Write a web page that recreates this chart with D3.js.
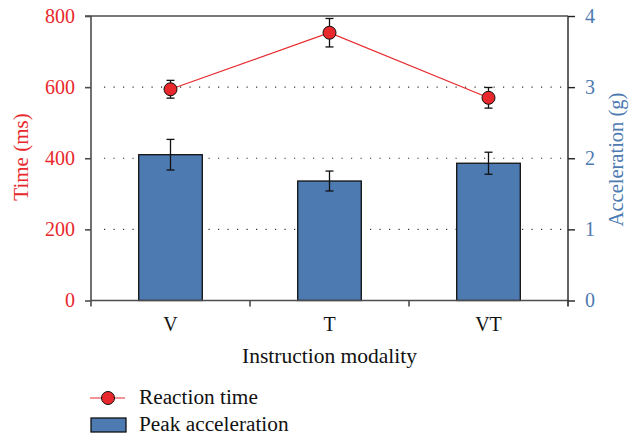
<!DOCTYPE html>
<html>
<head>
<meta charset="utf-8">
<script src="https://cdn.jsdelivr.net/npm/d3@7"></script>
<style>
  body { margin: 0; background: #fff; }
  svg text { font-family: "Liberation Serif", "Times New Roman", Tinos, "DejaVu Serif", serif !important; }
</style>
</head>
<body>
<svg></svg>
<script>
// Data
let categories = ["V", "T", "VT"];
let reactionTime = [594, 753, 570];
let reactionErr = [25, 40, 29];
let peakAcc = [2.05, 1.68, 1.93];
let peakAccErr = [0.215, 0.14, 0.155];
let timeTicks = [0, 200, 400, 600, 800];
let accTicks = [0, 1, 2, 3, 4];

const width = 634;
const height = 436;
const plotLeft = 91;
const plotRight = 568;
const plotTop = 16;
const plotBottom = 300.5;

const red = "#e8282c";
const blue = "#4c7ab1";
const axisGray = "#4d4d4d";

let svg = d3.select("svg").attr("width", width).attr("height", height);

let xScale = d3.scaleBand().domain(categories).range([plotLeft, plotRight]).paddingInner(0.6).paddingOuter(0.3);
let xAxisScale = d3.scaleBand().domain(categories).range([plotLeft, plotRight]);
let yTime = d3.scaleLinear().domain([0, 800]).range([plotBottom, plotTop]);
let yAcc = d3.scaleLinear().domain([0, 4]).range([plotBottom, plotTop]);

// grid lines
svg.append("g")
  .selectAll("line")
  .data([200, 400, 600])
  .enter()
  .append("line")
  .attr("x1", plotLeft + 13)
  .attr("x2", plotRight - 6)
  .attr("y1", (d) => yTime(d))
  .attr("y2", (d) => yTime(d))
  .attr("stroke", "#333")
  .attr("stroke-width", 1.2)
  .attr("stroke-dasharray", "1.2 8.3");

// bars
svg.append("g")
  .selectAll("rect")
  .data(categories)
  .enter()
  .append("rect")
  .attr("x", (d) => xScale(d))
  .attr("width", xScale.bandwidth())
  .attr("y", (d, i) => yAcc(peakAcc[i]))
  .attr("height", (d, i) => plotBottom - yAcc(peakAcc[i]))
  .attr("fill", blue)
  .attr("stroke", "#111")
  .attr("stroke-width", 1.3);

// error bars
function errorBars(vals, errs, scale) {
  let g = svg.append("g").attr("stroke", "#111").attr("stroke-width", 1.3);
  categories.forEach((c, i) => {
    let cx = xScale(c) + xScale.bandwidth() / 2;
    let y1 = scale(vals[i] + errs[i]);
    let y2 = scale(vals[i] - errs[i]);
    g.append("line").attr("x1", cx).attr("x2", cx).attr("y1", y1).attr("y2", y2);
    g.append("line").attr("x1", cx - 4).attr("x2", cx + 4).attr("y1", y1).attr("y2", y1);
    g.append("line").attr("x1", cx - 4).attr("x2", cx + 4).attr("y1", y2).attr("y2", y2);
  });
}
errorBars(peakAcc, peakAccErr, yAcc);

// reaction time line
let line = d3.line()
  .x((d, i) => xScale(categories[i]) + xScale.bandwidth() / 2)
  .y((d) => yTime(d));

svg.append("path")
  .datum(reactionTime)
  .attr("d", line)
  .attr("fill", "none")
  .attr("stroke", red)
  .attr("stroke-width", 1.2);

errorBars(reactionTime, reactionErr, yTime);

svg.append("g")
  .selectAll("circle")
  .data(reactionTime)
  .enter()
  .append("circle")
  .attr("cx", (d, i) => xScale(categories[i]) + xScale.bandwidth() / 2)
  .attr("cy", (d) => yTime(d))
  .attr("r", 6.5)
  .attr("fill", red)
  .attr("stroke", "#111")
  .attr("stroke-width", 1);

// axes
let leftAxis = svg.append("g")
  .attr("transform", "translate(" + plotLeft + ",0)")
  .call(d3.axisLeft(yTime).tickValues(timeTicks).tickSize(6).tickPadding(10));
leftAxis.select(".domain").attr("stroke", axisGray).attr("stroke-width", 1.6).attr("d", "M0," + plotTop + "V" + plotBottom);
leftAxis.selectAll(".tick line").attr("stroke", axisGray).attr("stroke-width", 1.6);
leftAxis.selectAll(".tick text").attr("fill", red).attr("font-size", 20);

let rightAxis = svg.append("g")
  .attr("transform", "translate(" + plotRight + ",0)")
  .call(d3.axisRight(yAcc).tickValues(accTicks).tickFormat(d3.format("d")).tickSize(7).tickPadding(10));
rightAxis.select(".domain").attr("stroke", "#222").attr("stroke-width", 1.4).attr("d", "M0," + plotTop + "V" + plotBottom);
rightAxis.selectAll(".tick line").attr("stroke", "#222").attr("stroke-width", 1.4);
rightAxis.selectAll(".tick text").attr("fill", blue).attr("font-size", 20);

// top frame line
svg.append("line")
  .attr("x1", plotLeft - 6).attr("x2", plotRight)
  .attr("y1", plotTop).attr("y2", plotTop)
  .attr("stroke", axisGray).attr("stroke-width", 1.6);

// bottom axis
let xAxis = svg.append("g")
  .attr("transform", "translate(0," + plotBottom + ")")
  .call(d3.axisBottom(xAxisScale).tickSize(0).tickPadding(16));
xAxis.select(".domain").attr("stroke", axisGray).attr("stroke-width", 1.6).attr("d", "M" + plotLeft + ",0H" + plotRight);
xAxis.selectAll(".tick text").attr("fill", "#111").attr("font-size", 20);

let bandEdges = [plotLeft].concat(categories.map((c) => xAxisScale(c) + xAxisScale.bandwidth()));
svg.append("g")
  .selectAll("line")
  .data(bandEdges)
  .enter()
  .append("line")
  .attr("x1", (d) => d).attr("x2", (d) => d)
  .attr("y1", plotBottom).attr("y2", plotBottom + 6)
  .attr("stroke", (d, i) => (i === 3 ? "#222" : axisGray))
  .attr("stroke-width", 1.6);

// titles
svg.append("text")
  .text("Instruction modality")
  .attr("x", 329.5)
  .attr("y", 362.5)
  .attr("text-anchor", "middle")
  .attr("font-size", 21.5)
  .attr("fill", "#111");

svg.append("text")
  .text("Time (ms)")
  .attr("transform", "translate(28," + 157 + ") rotate(-90)")
  .attr("text-anchor", "middle")
  .attr("font-size", 21)
  .attr("fill", red);

svg.append("text")
  .text("Acceleration (g)")
  .attr("transform", "translate(623," + 159.5 + ") rotate(-90)")
  .attr("text-anchor", "middle")
  .attr("font-size", 20.5)
  .attr("fill", blue);

// legend
let legend = svg.append("g");
legend.append("line")
  .attr("x1", 90).attr("x2", 125).attr("y1", 398).attr("y2", 398)
  .attr("stroke", red).attr("stroke-width", 1.2);
legend.append("circle")
  .attr("cx", 108).attr("cy", 398).attr("r", 6.5)
  .attr("fill", red).attr("stroke", "#111").attr("stroke-width", 1);
legend.append("text")
  .text("Reaction time")
  .attr("x", 139).attr("y", 404)
  .attr("font-size", 21.3).attr("fill", "#111");
legend.append("rect")
  .attr("x", 91).attr("y", 418).attr("width", 35).attr("height", 14)
  .attr("fill", blue).attr("stroke", "#111").attr("stroke-width", 1.3);
legend.append("text")
  .text("Peak acceleration")
  .attr("x", 139).attr("y", 430.5)
  .attr("font-size", 21.3).attr("fill", "#111");
</script>
</body>
</html>
